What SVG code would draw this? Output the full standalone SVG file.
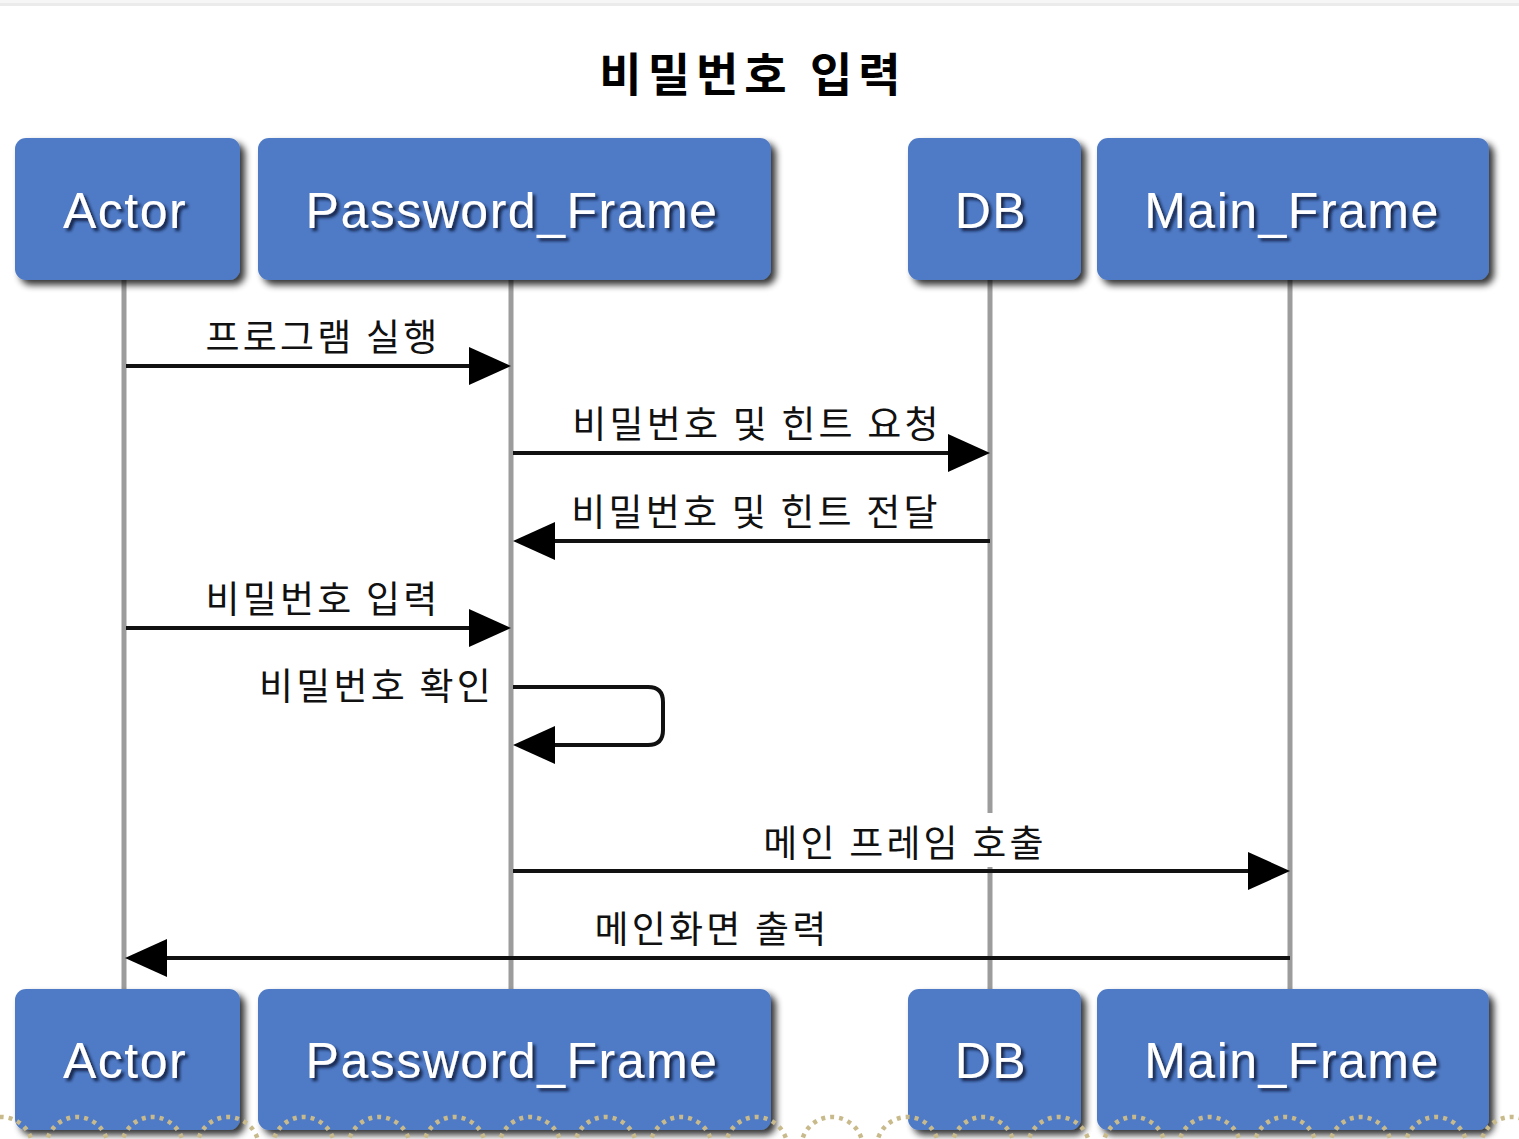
<svg xmlns="http://www.w3.org/2000/svg" width="1519" height="1139" viewBox="0 0 1519 1139">
<defs>
<style>
.box{fill:#4f7ac5;filter:url(#boxShadow)}
.ptxt{font-family:"Liberation Sans",Arial,sans-serif;font-size:50px;fill:#fff;text-anchor:middle;letter-spacing:1.5px;filter:url(#txtShadow)}
.life{stroke:#9c9c9c;stroke-width:5;fill:none}
.msg{stroke:#111;stroke-width:4;fill:none;marker-end:url(#ah)}
.lbl{font-family:"Noto Sans CJK KR","Noto Sans",sans-serif;font-size:37px;fill:#111;text-anchor:middle;letter-spacing:3.2px;word-spacing:0px}
.title{font-family:"Noto Sans CJK KR","Noto Sans",sans-serif;font-size:46px;font-weight:bold;fill:#000;text-anchor:middle;letter-spacing:6px;word-spacing:1px}
.deco{fill:none;stroke:#c9ba8c;stroke-width:4.5;stroke-dasharray:4 5}
</style>
<filter id="boxShadow" x="-10%" y="-15%" width="125%" height="135%">
<feGaussianBlur in="SourceAlpha" stdDeviation="3.5" result="b"/>
<feOffset in="b" dx="5" dy="5" result="o"/>
<feComponentTransfer in="o" result="s"><feFuncA type="linear" slope="0.8"/></feComponentTransfer>
<feMerge><feMergeNode in="s"/><feMergeNode in="SourceGraphic"/></feMerge>
</filter>
<filter id="txtShadow" x="-10%" y="-20%" width="125%" height="150%">
<feGaussianBlur in="SourceAlpha" stdDeviation="1.5" result="b"/>
<feOffset in="b" dx="2.5" dy="2.5" result="o"/>
<feFlood flood-color="#0d1a3a" flood-opacity="0.9"/>
<feComposite operator="in" in2="o" result="s"/>
<feMerge><feMergeNode in="s"/><feMergeNode in="SourceGraphic"/></feMerge>
</filter>
<marker id="ah" markerUnits="userSpaceOnUse" viewBox="0 0 42 38" markerWidth="42" markerHeight="38" refX="36" refY="19" orient="auto">
<path d="M0,0 L42,19 L0,38 z" fill="#000"/>
</marker>
</defs>
<rect x="0" y="0" width="1519" height="1139" fill="#fff"/>
<rect x="0" y="0" width="1519" height="3" fill="#f6f6f6"/>
<rect x="0" y="3" width="1519" height="3" fill="#ebebeb"/>

<text class="title" x="753" y="91">비밀번호 입력</text>

<g id="lifelines">
<line class="life" x1="124" y1="280" x2="124" y2="990"/>
<line class="life" x1="511" y1="280" x2="511" y2="990"/>
<line class="life" x1="990" y1="280" x2="990" y2="990"/>
<line class="life" x1="1290" y1="280" x2="1290" y2="990"/>
</g>

<g id="actor-top"><rect class="box" x="15" y="138" width="225" height="142" rx="11"/><text class="ptxt" x="125" y="228">Actor</text></g>
<g id="password-frame-top"><rect class="box" x="258" y="138" width="513" height="142" rx="11"/><text class="ptxt" x="512" y="228">Password_Frame</text></g>
<g id="db-top"><rect class="box" x="908" y="138" width="173" height="142" rx="11"/><text class="ptxt" x="991" y="228">DB</text></g>
<g id="main-frame-top"><rect class="box" x="1097" y="138" width="392" height="142" rx="11"/><text class="ptxt" x="1292" y="228">Main_Frame</text></g>

<g id="actor-bottom"><rect class="box" x="15" y="989" width="225" height="141" rx="11"/><text class="ptxt" x="125" y="1078">Actor</text></g>
<g id="password-frame-bottom"><rect class="box" x="258" y="989" width="513" height="141" rx="11"/><text class="ptxt" x="512" y="1078">Password_Frame</text></g>
<g id="db-bottom"><rect class="box" x="908" y="989" width="173" height="141" rx="11"/><text class="ptxt" x="991" y="1078">DB</text></g>
<g id="main-frame-bottom"><rect class="box" x="1097" y="989" width="392" height="141" rx="11"/><text class="ptxt" x="1292" y="1078">Main_Frame</text></g>

<g id="connectors">
<line class="msg" x1="126" y1="366" x2="505" y2="366"/>
<text class="lbl" x="323" y="351">프로그램 실행</text>

<line class="msg" x1="513" y1="453" x2="984" y2="453"/>
<text class="lbl" x="757" y="438">비밀번호 및 힌트 요청</text>

<line class="msg" x1="990" y1="541" x2="519" y2="541"/>
<text class="lbl" x="756" y="526">비밀번호 및 힌트 전달</text>

<line class="msg" x1="126" y1="628" x2="505" y2="628"/>
<text class="lbl" x="323" y="613">비밀번호 입력</text>

<path class="msg" d="M513,687 H648 Q663,687 663,702 V730 Q663,745 648,745 H519"/>
<text class="lbl" x="494" y="700" style="text-anchor:end">비밀번호 확인</text>

<rect x="758" y="813" width="292" height="54" fill="#fff"/>
<line class="msg" x1="513" y1="871" x2="1284" y2="871"/>
<text class="lbl" x="905" y="857">메인 프레임 호출</text>

<line class="msg" x1="1290" y1="958" x2="131" y2="958"/>
<text class="lbl" x="712" y="943">메인화면 출력</text>
</g>

<g id="decoration">
<circle class="deco" cx="1.5" cy="1148" r="31"/>
<circle class="deco" cx="77" cy="1148" r="31"/>
<circle class="deco" cx="152.5" cy="1148" r="31"/>
<circle class="deco" cx="228" cy="1148" r="31"/>
<circle class="deco" cx="303.5" cy="1148" r="31"/>
<circle class="deco" cx="379" cy="1148" r="31"/>
<circle class="deco" cx="454.5" cy="1148" r="31"/>
<circle class="deco" cx="530" cy="1148" r="31"/>
<circle class="deco" cx="605.5" cy="1148" r="31"/>
<circle class="deco" cx="681" cy="1148" r="31"/>
<circle class="deco" cx="756.5" cy="1148" r="31"/>
<circle class="deco" cx="832" cy="1148" r="31"/>
<circle class="deco" cx="907.5" cy="1148" r="31"/>
<circle class="deco" cx="983" cy="1148" r="31"/>
<circle class="deco" cx="1058.5" cy="1148" r="31"/>
<circle class="deco" cx="1134" cy="1148" r="31"/>
<circle class="deco" cx="1209.5" cy="1148" r="31"/>
<circle class="deco" cx="1285" cy="1148" r="31"/>
<circle class="deco" cx="1360.5" cy="1148" r="31"/>
<circle class="deco" cx="1436" cy="1148" r="31"/>
<circle class="deco" cx="1511.5" cy="1148" r="31"/>
</g>
</svg>
